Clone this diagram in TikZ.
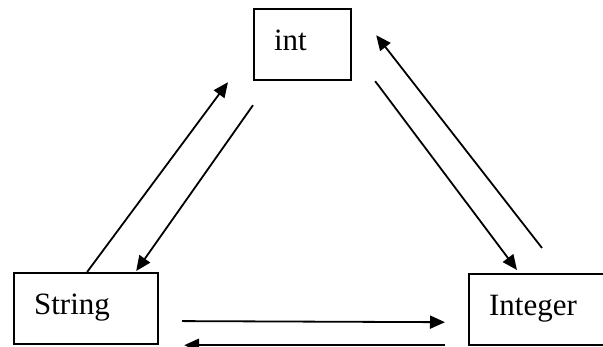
\documentclass[tikz,border=0pt]{standalone}
\usepackage{fontspec}
\setmainfont{Liberation Serif}
\usetikzlibrary{arrows.meta}

\begin{document}
\begin{tikzpicture}[x=1pt, y=1pt,
		box/.style={draw, line width=2.2pt, anchor=north west, align=left,
			inner xsep=20pt, inner ysep=0pt, text height=41pt, text depth=30pt,
			font=\fontsize{31}{36}\selectfont},
		conv/.style={line width=1.8pt, -{Triangle[length=15pt, width=13pt]}}]
				\useasboundingbox (0,0) rectangle (603,347);
				\node[box, text width=57pt] (int) at (253,339) {int};
				\node[box, text width=104pt] (str) at (13,75) {String};
				\node[box, text width=102pt] (itg) at (468,74) {Integer};
				% String <-> int
				\draw[conv] ([xshift=1pt]str.north) -- ([xshift=-25pt, yshift=-1pt]int.south west);
				\draw[conv] ([yshift=-24pt]int.south west) -- ([xshift=-23pt, yshift=1pt]str.north east);
				% Integer <-> int
				\draw[conv] ([xshift=74pt, yshift=25pt]itg.north west) -- ([xshift=24pt, yshift=46pt]int.south east);
				\draw[conv] ([xshift=23pt]int.south east) -- ([xshift=49pt, yshift=3pt]itg.north west);
				% String <-> Integer
				\draw[conv] ([xshift=23pt, yshift=-12.5pt]str.east) -- ([xshift=-23pt, yshift=24pt]itg.south west);
				\draw[conv] ([xshift=-23pt, yshift=1pt]itg.south west) -- ([xshift=25pt]str.south east);
			\end{tikzpicture}
\end{document}
